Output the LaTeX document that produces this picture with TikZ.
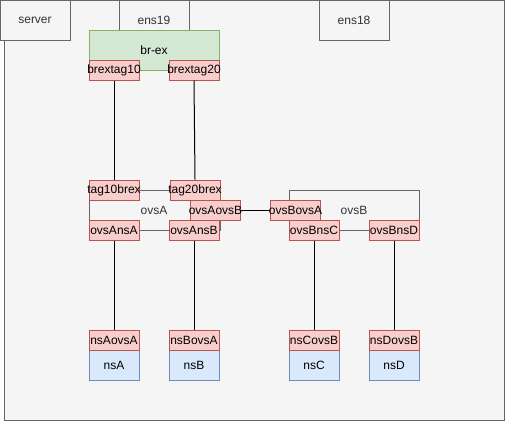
\documentclass[tikz,border=0pt]{standalone}
\usepackage{fontspec}
\setmainfont{Liberation Sans}
\definecolor{grayfill}{HTML}{F5F5F5}
\definecolor{graydraw}{HTML}{666666}
\definecolor{graytext}{HTML}{333333}
\definecolor{greenfill}{HTML}{D5E8D4}
\definecolor{greendraw}{HTML}{82B366}
\definecolor{redfill}{HTML}{F8CECC}
\definecolor{reddraw}{HTML}{B85450}
\definecolor{bluefill}{HTML}{DAE8FC}
\definecolor{bluedraw}{HTML}{6C8EBF}
\newcommand\ctext[1]{\makebox[0pt]{#1}}
\begin{document}
\begin{tikzpicture}[x=1pt,y=-1pt,line width=1pt,
  every node/.style={font=\fontsize{12}{14}\selectfont, inner sep=0pt},
  graybox/.style={draw=graydraw, fill=grayfill, text=graytext, minimum width=70pt, minimum height=40pt},
  greenbox/.style={draw=greendraw, fill=greenfill, minimum width=130pt, minimum height=40pt},
  redbox/.style={draw=reddraw, fill=redfill, minimum width=50pt, minimum height=20pt},
  bluebox/.style={draw=bluedraw, fill=bluefill, minimum width=50pt, minimum height=30pt},
  container/.style={draw=graydraw},
  conn/.style={draw=black},
  lbl/.style={text=graytext}]
\useasboundingbox (0,0) rectangle (505,421);
% outer server area
\node[draw=graydraw, fill=grayfill, minimum width=500pt, minimum height=420pt, anchor=north west] (outer) at (4,0) {};
\node[graybox] (server) at (35,20) {server};
\node[graybox] (ens19) at (154,20) {ens19};
\node[graybox] (ens18) at (354,20) {ens18};
\node[greenbox] (brex) at (154,50) {br-ex};
% containers
\draw[container] (89,190) rectangle (220,230);
\node[lbl] (ovsA) at (154,210) {ovsA};
\draw[container] (289,190) rectangle (419,230);
\node[lbl] (ovsB) at (354,210) {ovsB};
% red ports
\node[redbox] (brextag10) at (114,70) {\ctext{brextag10}};
\node[redbox] (brextag20) at (194,70) {\ctext{brextag20}};
\node[redbox] (tag10brex) at (114,190) {\ctext{tag10brex}};
\node[redbox] (tag20brex) at (195,190) {\ctext{tag20brex}};
\node[redbox] (ovsAovsB) at (215.5,210) {\ctext{ovsAovsB}};
\node[redbox] (ovsAnsA) at (114,230) {\ctext{ovsAnsA}};
\node[redbox] (ovsAnsB) at (194,230) {\ctext{ovsAnsB}};
\node[redbox] (ovsBovsA) at (295.5,210) {\ctext{ovsBovsA}};
\node[redbox] (ovsBnsC) at (314,230) {\ctext{ovsBnsC}};
\node[redbox] (ovsBnsD) at (394,230) {\ctext{ovsBnsD}};
% namespaces
\node[bluebox, anchor=north] (nsA) at (114,350) {nsA};
\node[bluebox, anchor=north] (nsB) at (194,350) {nsB};
\node[bluebox, anchor=north] (nsC) at (314,350) {nsC};
\node[bluebox, anchor=north] (nsD) at (394,350) {nsD};
\node[redbox] (nsAovsA) at (114,340) {\ctext{nsAovsA}};
\node[redbox] (nsBovsA) at (194,340) {\ctext{nsBovsA}};
\node[redbox] (nsCovsB) at (314,340) {\ctext{nsCovsB}};
\node[redbox] (nsDovsB) at (394,340) {\ctext{nsDovsB}};
% connectors
\draw[conn] (brextag10.south) -- (tag10brex.north);
\draw[conn] (brextag20.south) -- (tag20brex.north);
\draw[conn] (ovsAovsB.east) -- (ovsBovsA.west);
\draw[conn] (ovsAnsA.south) -- (nsAovsA.north);
\draw[conn] (ovsAnsB.south) -- (nsBovsA.north);
\draw[conn] (ovsBnsC.south) -- (nsCovsB.north);
\draw[conn] (ovsBnsD.south) -- (nsDovsB.north);
\end{tikzpicture}
\end{document}
